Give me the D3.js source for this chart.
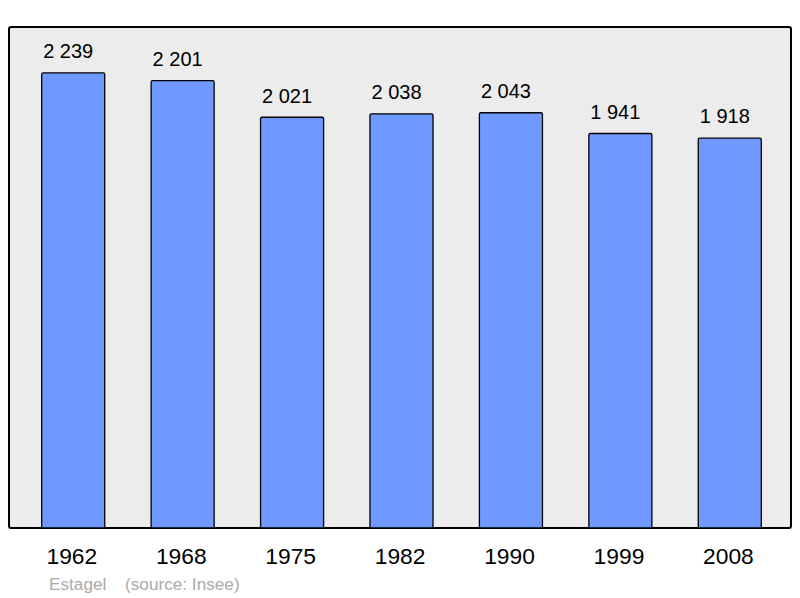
<!DOCTYPE html>
<html><head><meta charset="utf-8">
<script src="https://cdn.jsdelivr.net/npm/d3@7"></script>
<style>body{margin:0;background:#fff}svg{display:block}</style>
</head><body>
<script>
const years = ["1962","1968","1975","1982","1990","1999","2008"];
const population = [2239, 2201, 2021, 2038, 2043, 1941, 1918];
const valueLabels = ["2 239","2 201","2 021","2 038","2 043","1 941","1 918"];
const captionCommune = "Estagel";
const captionSource = "(source: Insee)";

const W = 800, H = 598;
const FONT = "Liberation Sans, Arial, sans-serif";
const svg = d3.select("body").append("svg").attr("width", W).attr("height", H);
const plot = {x0: 9, x1: 791, y0: 27, y1: 528};

svg.append("rect").attr("x", plot.x0).attr("y", plot.y0)
  .attr("width", plot.x1 - plot.x0).attr("height", plot.y1 - plot.y0)
  .attr("rx", 2).attr("fill", "#ececec").attr("stroke", "#000").attr("stroke-width", 2);

const x = d3.scaleBand().domain(years).range([18.5, 784.5]).paddingInner(0.424).paddingOuter(0.212);
const y = d3.scaleLinear().domain([0, 2465]).range([plot.y1, plot.y0]);

const g = svg.append("g");
g.selectAll("rect.bar").data(population).join("rect").attr("class","bar")
  .attr("x", (d,i) => x(years[i])).attr("width", x.bandwidth())
  .attr("y", d => y(d)).attr("height", d => y(0) - y(d))
  .attr("rx", 1.5).attr("fill", "#7099ff").attr("stroke", "#000").attr("stroke-width", 1.3);

g.selectAll("text.val").data(population).join("text").attr("class","val")
  .attr("x", (d,i) => x(years[i]) + x.bandwidth()/2 - 5).attr("y", d => y(d) - 14.7)
  .attr("text-anchor","middle").attr("font-family", FONT)
  .attr("font-size", 20).attr("fill","#000").text((d,i) => valueLabels[i]);

const xAxis = svg.append("g").attr("transform", `translate(-1.4,${plot.y1})`)
  .call(d3.axisBottom(x).tickSize(0).tickPadding(0));
xAxis.select(".domain").remove();
xAxis.selectAll("text").attr("y", 36.3).attr("dy", null)
  .attr("font-family", FONT).attr("font-size", 22.8).attr("fill","#000");

svg.append("text").attr("x", 49).attr("y", 590)
  .attr("font-family", FONT).attr("font-size", 17.2).attr("fill","#aaa").text(captionCommune);
svg.append("text").attr("x", 125).attr("y", 590)
  .attr("font-family", FONT).attr("font-size", 17.2).attr("fill","#aaa").text(captionSource);
</script>
</body></html>
